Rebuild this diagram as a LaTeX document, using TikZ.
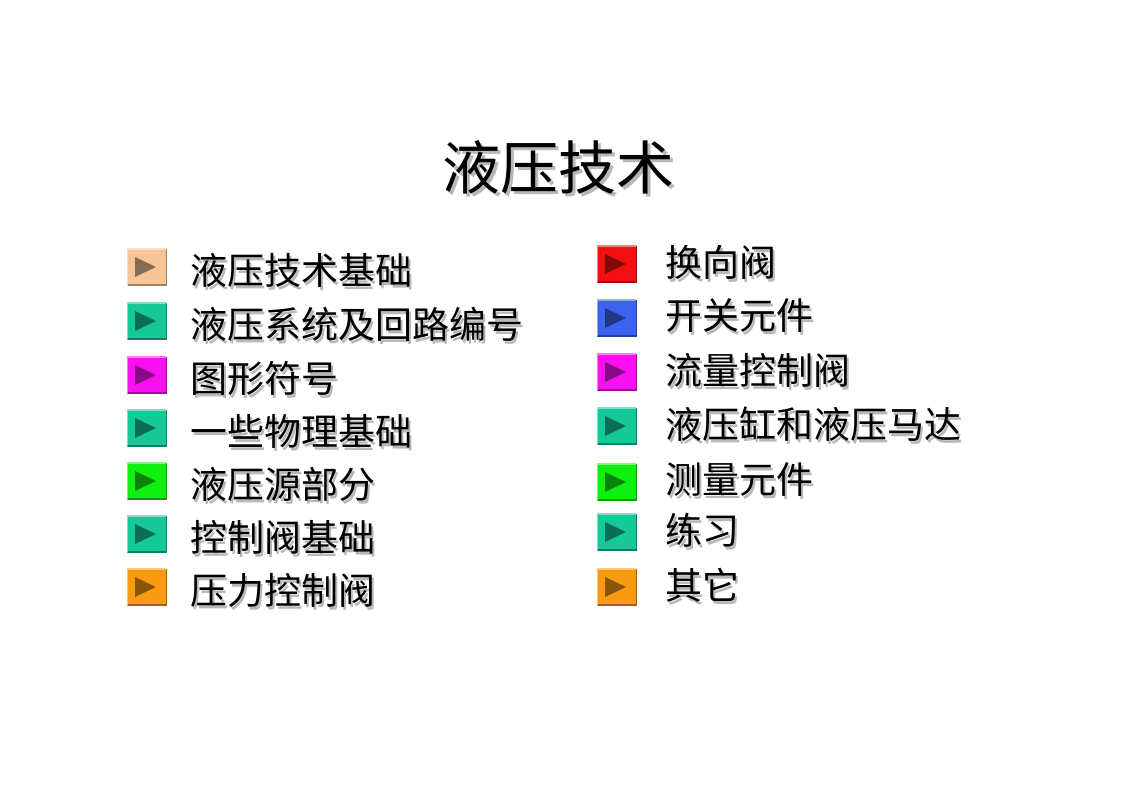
\documentclass[tikz,border=0pt]{standalone}
\usepackage{fontspec}
\setmainfont{Noto Sans CJK SC}
\usepackage{tikz}
\usetikzlibrary{positioning}

\definecolor{btntan}{HTML}{F6C496}
\definecolor{btnteal}{HTML}{14C898}
\definecolor{btnmag}{HTML}{F810F0}
\definecolor{btngreen}{HTML}{10F010}
\definecolor{btnorange}{HTML}{FA9A10}
\definecolor{btnred}{HTML}{F41010}
\definecolor{btnblue}{HTML}{3A64F0}

\tikzset{
	btn/.style={rectangle, inner sep=0pt, minimum width=40pt, minimum height=37pt},
	item/.style={anchor=west, inner sep=0pt, font=\fontsize{37}{37}\selectfont},
	shade text/.style={text=black!28},
	headline/.style={inner sep=0pt, font=\fontsize{58}{58}\selectfont}
}

\begin{document}
\begin{tikzpicture}[x=1pt, y=-1pt]
	\useasboundingbox (0,0) rectangle (1132,800);
	
	% title
	\node[headline, shade text] (shadetitle) at (561,170) {液压技术};
	\node[headline] (title) at (558,167) {液压技术};
	
	% left column
	\foreach \y/\c/\t [count=\i] in {267/btntan/液压技术基础, 321/btnteal/液压系统及回路编号, 375/btnmag/图形符号, 428/btnteal/一些物理基础, 481/btngreen/液压源部分, 534/btnteal/控制阀基础, 587/btnorange/压力控制阀} {
		\node[btn, fill=\c] (bL\i) at (147,\y) {};
		\draw[\c!55!white, line width=1.5pt] ([shift={(0.75pt,0.75pt)}]bL\i.south west) -- ([shift={(0.75pt,-0.75pt)}]bL\i.north west) -- ([shift={(-0.75pt,-0.75pt)}]bL\i.north east);
		\draw[\c!65!black, line width=1.5pt] ([shift={(-0.75pt,-0.75pt)}]bL\i.north east) -- ([shift={(-0.75pt,0.75pt)}]bL\i.south east) -- ([shift={(0.75pt,0.75pt)}]bL\i.south west);
		\fill[\c!55!black] ([shift={(-12pt,10pt)}]bL\i.center) -- ([shift={(9pt,0pt)}]bL\i.center) -- ([shift={(-12pt,-10pt)}]bL\i.center) -- cycle;
		\node[item, shade text] (sL\i) at (192,\y+6) {\t};
		\node[item] (tL\i) at (190,\y+3) {\t};
	}
	
	% right column
	\foreach \y/\c/\t [count=\i] in {264/btnred/换向阀, 318/btnblue/开关元件, 372/btnmag/流量控制阀, 426/btnteal/液压缸和液压马达, 482/btngreen/测量元件, 532/btnteal/练习, 587/btnorange/其它} {
		\node[btn, fill=\c] (bR\i) at (617,\y) {};
		\draw[\c!55!white, line width=1.5pt] ([shift={(0.75pt,0.75pt)}]bR\i.south west) -- ([shift={(0.75pt,-0.75pt)}]bR\i.north west) -- ([shift={(-0.75pt,-0.75pt)}]bR\i.north east);
		\draw[\c!65!black, line width=1.5pt] ([shift={(-0.75pt,-0.75pt)}]bR\i.north east) -- ([shift={(-0.75pt,0.75pt)}]bR\i.south east) -- ([shift={(0.75pt,0.75pt)}]bR\i.south west);
		\fill[\c!55!black] ([shift={(-12pt,10pt)}]bR\i.center) -- ([shift={(9pt,0pt)}]bR\i.center) -- ([shift={(-12pt,-10pt)}]bR\i.center) -- cycle;
		\node[item, shade text] (sR\i) at (667,\y+1) {\t};
		\node[item] (tR\i) at (665,\y-2) {\t};
	}
\end{tikzpicture}
\end{document}
